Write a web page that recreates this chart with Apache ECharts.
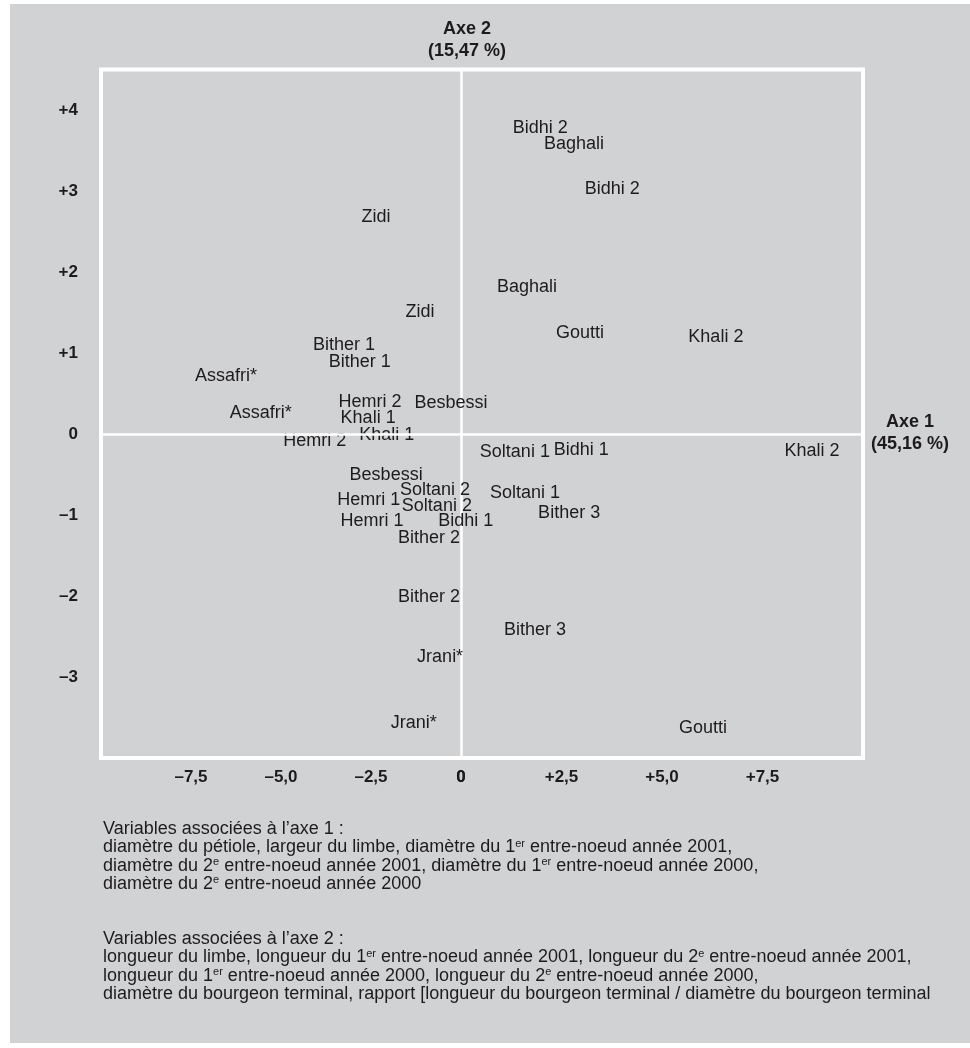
<!DOCTYPE html>
<html>
<head>
<meta charset="UTF-8">
<title>ACP - plan factoriel axe 1 / axe 2</title>
<script src="https://cdn.jsdelivr.net/npm/echarts@6/dist/echarts.min.js"></script>
<style>
    html, body { margin: 0; padding: 0; background: #fff; }
    #main { width: 970px; height: 1048px; }
</style>
</head>
<body>
<div id="main"></div>
<script>
// individus du cote negatif de l'axe 1
var leftNames = ['Zidi', 'Zidi', 'Bither 1', 'Bither 1', 'Assafri*', 'Hemri 2', 'Besbessi', 'Assafri*',
    'Khali 1', 'Khali 1', 'Hemri 2', 'Besbessi', 'Soltani 2', 'Hemri 1', 'Soltani 2', 'Hemri 1',
    'Bither 2', 'Bither 2', 'Jrani*', 'Jrani*'];
var leftX = [-2.36, -1.14, -3.25, -2.81, -6.53, -2.53, -0.28, -5.56,
    -2.58, -2.06, -4.06, -2.08, -0.72, -2.56, -0.67, -2.47,
    -0.89, -0.89, -0.58, -1.31];
var leftY = [2.68, 1.51, 1.10, 0.89, 0.72, 0.40, 0.38, 0.26,
    0.20, -0.01, -0.09, -0.51, -0.69, -0.81, -0.89, -1.07,
    -1.28, -2.01, -2.75, -3.57];

// individus du cote positif de l'axe 1
var rightNames = ['Bidhi 2', 'Baghali', 'Bidhi 2', 'Baghali', 'Goutti', 'Khali 2', 'Soltani 1', 'Bidhi 1',
    'Khali 2', 'Soltani 1', 'Bither 3', 'Bidhi 1', 'Bither 3', 'Goutti'];
var rightX = [1.97, 2.81, 3.76, 1.64, 2.96, 6.34, 1.34, 2.99,
    8.73, 1.59, 2.69, 0.12, 1.84, 6.02];
var rightY = [3.78, 3.58, 3.02, 1.81, 1.25, 1.20, -0.22, -0.20,
    -0.21, -0.73, -0.98, -1.07, -2.42, -3.63];

// graduations
var xTicks = [-7.5, -5, -2.5, 0, 2.5, 5, 7.5];
var yTicks = [-3, -2, -1, 0, 1, 2, 3, 4];

var FONT = "'Liberation Sans', Arial, Helvetica, sans-serif";
var INK = '#1e1b1c';

function fmtX(v) {
    if (xTicks.indexOf(v) < 0) return '';
    if (v === 0) return '0';
    return (v > 0 ? '+' : '\u2013') + Math.abs(v).toFixed(1).replace('.', ',');
}
function fmtY(v) {
    if (yTicks.indexOf(v) < 0) return '';
    if (v === 0) return '0';
    return (v > 0 ? '+' : '\u2013') + Math.abs(v);
}
function pts(names, xs, ys) {
    return names.map(function (n, i) { return {name: n, value: [xs[i], ys[i]]}; });
}

var tickLabel = {color: INK, fontFamily: FONT, fontWeight: 'bold', fontSize: 17};

var zeroLine = {
    silent: true, symbol: 'none', label: {show: false},
    lineStyle: {color: '#fff', width: 2.5, type: 'solid', opacity: 1},
    data: [{yAxis: 0}]
};

function pointSeries(idx, data) {
    return {
        type: 'scatter', xAxisIndex: idx, yAxisIndex: idx,
        data: data, symbolSize: 0, silent: true,
        itemStyle: {color: INK, opacity: 1},
        label: {show: true, position: 'inside', formatter: '{b}', opacity: 1,
            color: INK, fontFamily: FONT, fontSize: 18},
        markLine: zeroLine
    };
}

var notes = [
    'Variables associ\u00e9es \u00e0 l\u2019axe 1 :',
    'diam\u00e8tre du p\u00e9tiole, largeur du limbe, diam\u00e8tre du 1{s|er} entre-noeud ann\u00e9e 2001,',
    'diam\u00e8tre du 2{s|e} entre-noeud ann\u00e9e 2001, diam\u00e8tre du 1{s|er} entre-noeud ann\u00e9e 2000,',
    'diam\u00e8tre du 2{s|e} entre-noeud ann\u00e9e 2000',
    '',
    '',
    'Variables associ\u00e9es \u00e0 l\u2019axe 2 :',
    'longueur du limbe, longueur du 1{s|er} entre-noeud ann\u00e9e 2001, longueur du 2{s|e} entre-noeud ann\u00e9e 2001,',
    'longueur du 1{s|er} entre-noeud ann\u00e9e 2000, longueur du 2{s|e} entre-noeud ann\u00e9e 2000,',
    'diam\u00e8tre du bourgeon terminal, rapport [longueur du bourgeon terminal / diam\u00e8tre du bourgeon terminal'
];

var myChart = echarts.init(document.getElementById('main'));

var option = {
    backgroundColor: '#fff',
    animation: false,
    textStyle: {fontFamily: FONT},
    graphic: [
        {type: 'rect', z: -10, silent: true, shape: {x: 10, y: 4, width: 960, height: 1039}, style: {fill: '#d1d2d4'}},
        {type: 'text', silent: true, style: {
            x: 910, y: 433, text: 'Axe 1\n(45,16 %)', align: 'center', verticalAlign: 'middle',
            font: 'bold 18px ' + FONT, lineHeight: 22, fill: INK}},
        {type: 'text', silent: true, style: {
            x: 103, y: 820, text: notes.join('\n'), font: '18px ' + FONT, lineHeight: 18.3, fill: INK,
            rich: {s: {fontSize: 11, lineHeight: 11, verticalAlign: 'top', fontFamily: FONT, fill: INK}}}}
    ],
    grid: [
        {left: 101, top: 69.5, width: 360, height: 688.5},
        {left: 461, top: 69.5, width: 402, height: 688.5},
        // cadre blanc
        {left: 101, top: 69.5, width: 762, height: 688.5, show: true, borderColor: '#fff', borderWidth: 4, backgroundColor: 'transparent'}
    ],
    xAxis: [
        {type: 'value', gridIndex: 0, min: -10, max: 0, interval: 2.5, position: 'bottom',
            axisLine: {show: false, onZero: false}, axisTick: {show: false}, splitLine: {show: false},
            axisLabel: Object.assign({margin: 11, formatter: fmtX}, tickLabel)},
        {type: 'value', gridIndex: 1, min: 0, max: 10, interval: 2.5, position: 'bottom',
            axisLine: {show: false, onZero: false}, axisTick: {show: false}, splitLine: {show: false},
            axisLabel: Object.assign({margin: 11, formatter: fmtX}, tickLabel)},
        {type: 'value', gridIndex: 2, show: false}
    ],
    yAxis: [
        {type: 'value', gridIndex: 0, min: -4, max: 4.5, interval: 1, position: 'left',
            axisLine: {show: false, onZero: false}, axisTick: {show: false}, splitLine: {show: false},
            axisLabel: Object.assign({margin: 23, formatter: fmtY}, tickLabel)},
        {type: 'value', gridIndex: 1, min: -4, max: 4.5, interval: 1, position: 'left',
            axisLine: {show: true, onZero: true, lineStyle: {color: '#fff', width: 2.5}},
            axisTick: {show: false}, splitLine: {show: false}, axisLabel: {show: false},
            name: 'Axe 2\n(15,47 %)', nameLocation: 'end', nameGap: 7,
            nameTextStyle: {color: INK, fontFamily: FONT, fontWeight: 'bold', fontSize: 18, lineHeight: 22,
                align: 'center', padding: [0, 0, 0, 12]}},
        {type: 'value', gridIndex: 2, show: false}
    ],
    series: [
        pointSeries(0, pts(leftNames, leftX, leftY)),
        pointSeries(1, pts(rightNames, rightX, rightY))
    ]
};
myChart.setOption(option);
</script>
</body>
</html>
